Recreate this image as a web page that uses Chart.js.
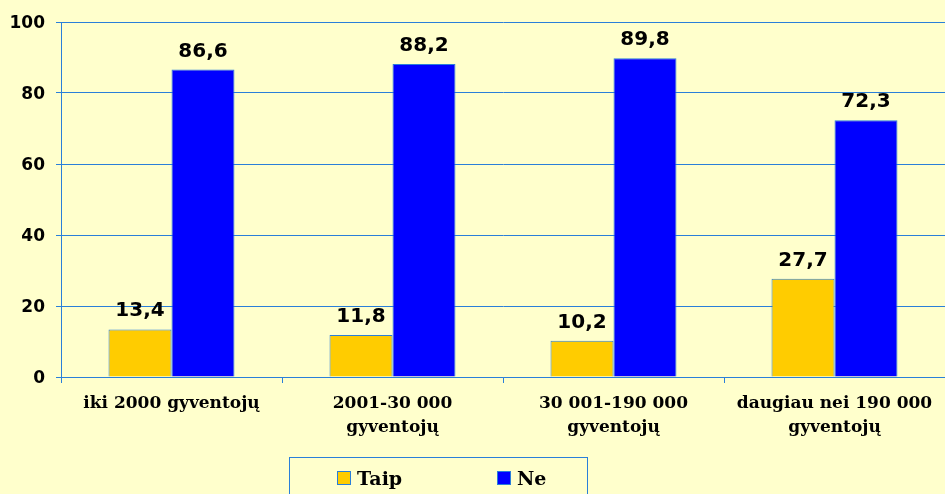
<!DOCTYPE html>
<html>
<head>
<meta charset="utf-8">
<script src="https://cdn.jsdelivr.net/npm/chart.js@4/dist/chart.umd.min.js"></script>
<style>
  html, body { margin: 0; padding: 0; background: #FFFFCC; }
  #wrap { position: relative; width: 945px; height: 494px; overflow: hidden; }
  #legend {
    position: absolute; left: 289px; top: 457px; width: 299px; height: 45px;
    border: 1px solid #2A7FD9; box-sizing: border-box;
    font: bold 19px "DejaVu Serif", serif; color: #000;
  }
  .item { position: absolute; top: 11px; line-height: 19px; }
  .sw { display: inline-block; width: 12px; height: 12px; border: 1px solid #2A7FD9; vertical-align: 0px; margin-right: 6px; }
</style>
</head>
<body>
<div id="wrap">
  <canvas id="chart" width="945" height="494"></canvas>
  <div id="legend">
    <span class="item" style="left:47px"><span class="sw" style="background:#FFCC00"></span>Taip</span>
    <span class="item" style="left:207px"><span class="sw" style="background:#0000FF"></span>Ne</span>
  </div>
</div>
<script>
// Data
var categories = [
  'iki 2000 gyventojų',
  ['2001-30 000', 'gyventojų'],
  ['30 001-190 000', 'gyventojų'],
  ['daugiau nei 190 000', 'gyventojų']
];
var taipValues = [13.4, 11.8, 10.2, 27.7];
var neValues = [86.6, 88.2, 89.8, 72.3];
var yTicks = [0, 20, 40, 60, 80, 100];

var lineBlue = '#2A7FD9';

// Draw value labels above each bar (comma decimals)
var valueLabels = {
  id: 'valueLabels',
  afterDatasetsDraw: function (chart) {
    var ctx = chart.ctx;
    ctx.save();
    ctx.font = 'bold 20px "DejaVu Sans", sans-serif';
    ctx.fillStyle = '#000';
    ctx.textAlign = 'center';
    ctx.textBaseline = 'alphabetic';
    chart.data.datasets.forEach(function (ds, di) {
      chart.getDatasetMeta(di).data.forEach(function (bar, i) {
        var txt = ds.data[i].toFixed(1).replace('.', ',');
        ctx.fillText(txt, bar.x, bar.y - 13);
      });
    });
    ctx.restore();
  }
};

new Chart(document.getElementById('chart'), {
  type: 'bar',
  data: {
    labels: categories,
    datasets: [
      { label: 'Taip', data: taipValues, backgroundColor: '#FFCC00', borderColor: lineBlue, borderWidth: 1 },
      { label: 'Ne', data: neValues, backgroundColor: '#0000FF', borderColor: lineBlue, borderWidth: 1 }
    ]
  },
  options: {
    responsive: false,
    animation: false,
    layout: { padding: { top: 22, right: 0, left: 0, bottom: 0 } },
    datasets: { bar: { categoryPercentage: 0.57, barPercentage: 1.0 } },
    plugins: {
      legend: { display: false },
      tooltip: { enabled: false }
    },
    scales: {
      x: {
        afterFit: function (scale) { scale.height = 117; },
        grid: { offset: true, drawOnChartArea: false, color: lineBlue, tickLength: 6 },
        border: { color: lineBlue },
        ticks: {
          color: '#000',
          padding: 8,
          maxRotation: 0,
          font: { family: '"DejaVu Serif", serif', weight: 'bold', size: 17, lineHeight: 1.45 }
        }
      },
      y: {
        min: 0,
        max: 100,
        afterFit: function (scale) { scale.width = 61; },
        afterBuildTicks: function (scale) {
          scale.ticks = yTicks.map(function (v) { return { value: v }; });
        },
        grid: { color: lineBlue, tickLength: 5 },
        border: { color: lineBlue },
        ticks: {
          color: '#000',
          padding: 11,
          labelOffset: 2,
          font: { family: '"DejaVu Sans", sans-serif', weight: 'bold', size: 17 }
        }
      }
    }
  },
  plugins: [valueLabels]
});
</script>
</body>
</html>
